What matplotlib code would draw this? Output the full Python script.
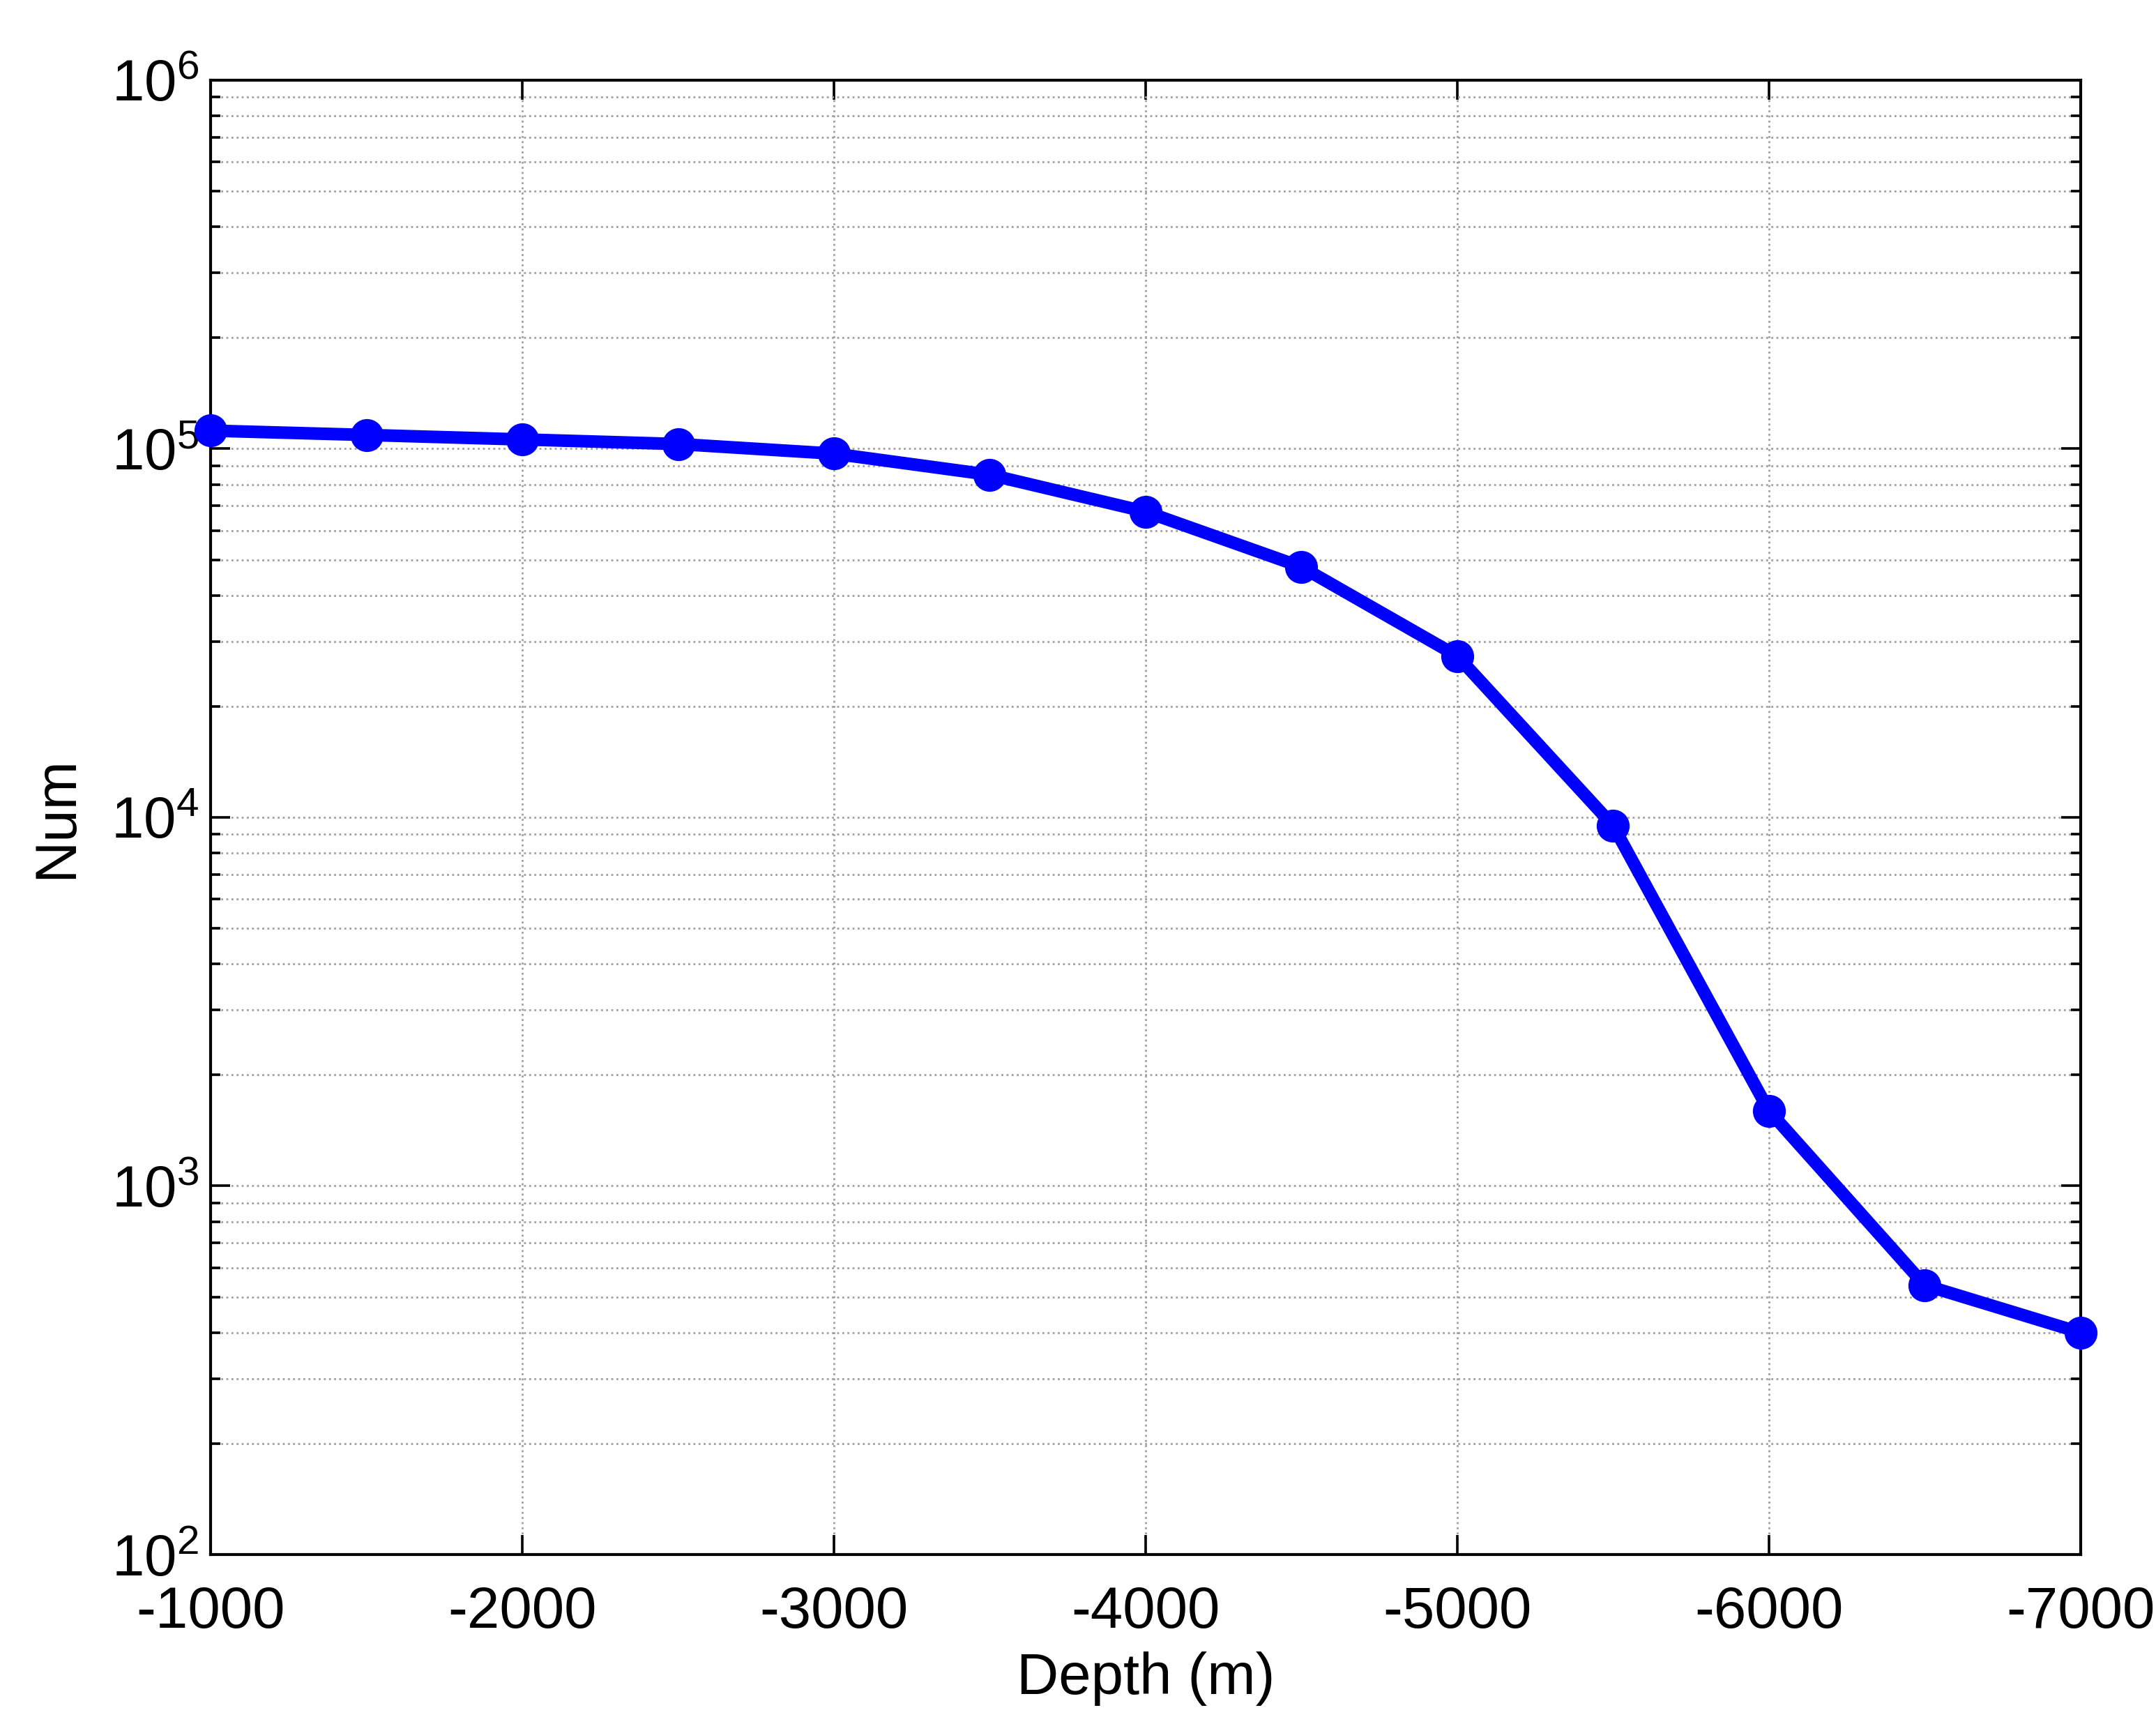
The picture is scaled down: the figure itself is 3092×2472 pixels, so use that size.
import matplotlib
matplotlib.use("Agg")
import matplotlib.pyplot as plt
from matplotlib.ticker import LogLocator, FixedLocator, NullFormatter, NullLocator

plt.rcParams['font.family'] = ['Liberation Sans', 'DejaVu Sans']
plt.rcParams['mathtext.fontset'] = 'custom'
plt.rcParams['mathtext.rm'] = 'Liberation Sans'
plt.rcParams['mathtext.it'] = 'Liberation Sans:italic'
plt.rcParams['mathtext.bf'] = 'Liberation Sans:bold'

depth = [-1000, -1500, -2000, -2500, -3000, -3500, -4000, -4500, -5000, -5500, -6000, -6500, -7000]
num = [112000, 109000, 106000, 103000, 97000, 85000, 67500, 47800, 27400, 9500, 1600, 538, 400]
xticks = [-1000, -2000, -3000, -4000, -5000, -6000, -7000]
xticklabels = ['-1000', '-2000', '-3000', '-4000', '-5000', '-6000', '-7000']
yticks = [1e2, 1e3, 1e4, 1e5, 1e6]
yticklabels = [r'$10^{2}$', r'$10^{3}$', r'$10^{4}$', r'$10^{5}$', r'$10^{6}$']

fig = plt.figure(figsize=(15.46, 12.36), dpi=200)
ax = fig.add_axes([0.0977, 0.0983, 0.965 - 0.0977, 0.9535 - 0.0983])

ax.plot(depth, num, color='#0000ff', linewidth=6.5, marker='o', markersize=16,
        markerfacecolor='#0000ff', markeredgecolor='#0000ff', zorder=5, clip_on=False)

ax.set_yscale('log')
ax.set_ylim(1e2, 1e6)
ax.set_xlim(-1000, -7000)

ax.xaxis.set_major_locator(FixedLocator(xticks))
ax.set_xticklabels(xticklabels)
ax.xaxis.set_minor_locator(NullLocator())
ax.set_yticks(yticks)
ax.set_yticklabels(yticklabels)
ax.yaxis.set_minor_locator(LogLocator(base=10, subs=[2, 3, 4, 5, 6, 7, 8, 9], numticks=20))
ax.yaxis.set_minor_formatter(NullFormatter())

ax.grid(True, which='major', axis='both', linestyle=':', color='#a0a0a0', linewidth=1.0)
ax.grid(True, which='minor', axis='y', linestyle=':', color='#a0a0a0', linewidth=1.0)

ax.tick_params(axis='both', which='major', direction='in', length=10, width=1.3,
               labelsize=30, top=True, right=True, pad=16)
ax.tick_params(axis='y', which='minor', direction='in', length=5, width=1.3,
               left=True, right=True)
ax.tick_params(axis='y', which='major', pad=6)

for s in ax.spines.values():
    s.set_linewidth(1.5)

ax.set_xlabel('Depth (m)', fontsize=30, labelpad=6)
ax.set_ylabel('Num', fontsize=30, labelpad=14)

fig.savefig('out.png', dpi=200)
